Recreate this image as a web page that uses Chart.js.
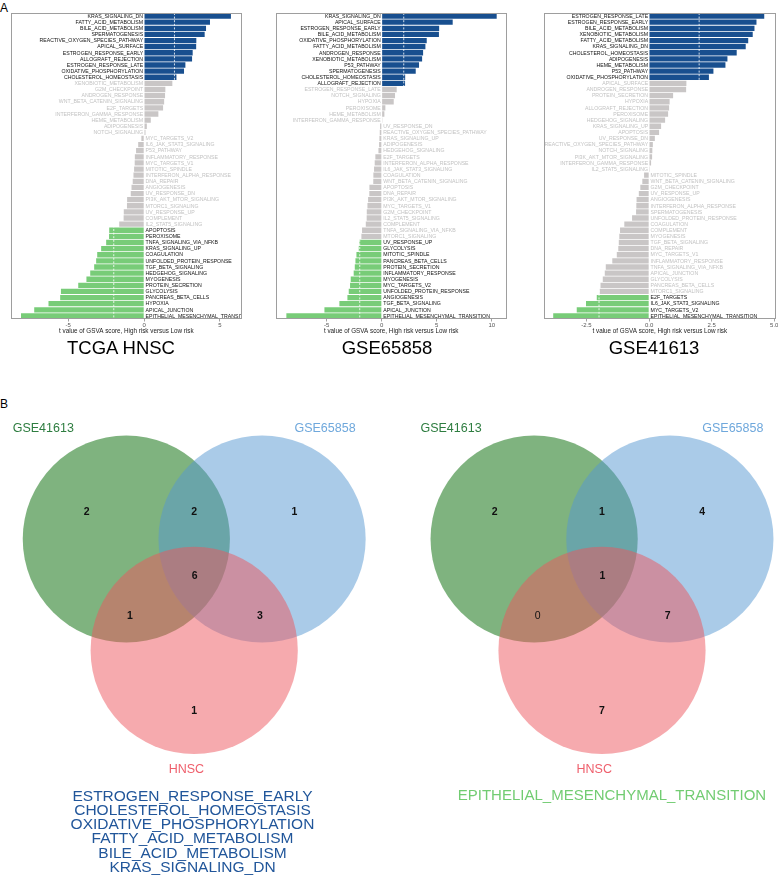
<!DOCTYPE html>
<html><head><meta charset="utf-8">
<script src="https://cdn.jsdelivr.net/npm/chart.js@4.4.1/dist/chart.umd.min.js"></script>
<style>
body{margin:0;width:778px;height:876px;position:relative;background:#fff;overflow:hidden;font-family:"Liberation Sans",Arial,sans-serif}
canvas,.t{position:absolute}
.t{white-space:nowrap;text-align:center}
</style></head><body>
<div class="t" style="left:0;top:0;font-size:12px;line-height:16px;text-align:left">A</div>
<div class="t" style="left:0;top:396px;font-size:12px;line-height:16px;text-align:left">B</div>
<canvas id="c1" width="260" height="340" style="left:0;top:0"></canvas>
<canvas id="c2" width="259" height="340" style="left:260px;top:0"></canvas>
<canvas id="c3" width="259" height="340" style="left:519px;top:0"></canvas>
<div class="t" id="t1" style="left:21px;width:200px;top:338px;font-size:18.5px;line-height:20px"></div>
<div class="t" id="t2" style="left:287px;width:200px;top:338px;font-size:18.5px;line-height:20px"></div>
<div class="t" id="t3" style="left:554px;width:200px;top:338px;font-size:18.5px;line-height:20px"></div>
<canvas id="v1" width="389" height="466" style="left:0;top:410px"></canvas>
<canvas id="v2" width="389" height="466" style="left:389px;top:410px"></canvas>
<div class="t" id="g1" style="left:0;width:385px;top:788.6px;font-size:15.5px;line-height:14.3px;color:#21569a"></div>
<div class="t" id="g2" style="left:412px;width:400px;top:788px;font-size:15px;line-height:14.3px;color:#72cc72"></div>
<script>
// ---------- DATA ----------
const panelTitles = ['TCGA HNSC', 'GSE65858', 'GSE41613'];
const xAxisTitle = 't value of GSVA score, High risk versus Low risk';
const threshold = 2;

const tcgaPathways = ['KRAS_SIGNALING_DN','FATTY_ACID_METABOLISM','BILE_ACID_METABOLISM','SPERMATOGENESIS','REACTIVE_OXYGEN_SPECIES_PATHWAY','APICAL_SURFACE','ESTROGEN_RESPONSE_EARLY','ALLOGRAFT_REJECTION','ESTROGEN_RESPONSE_LATE','OXIDATIVE_PHOSPHORYLATION','CHOLESTEROL_HOMEOSTASIS','XENOBIOTIC_METABOLISM','G2M_CHECKPOINT','ANDROGEN_RESPONSE','WNT_BETA_CATENIN_SIGNALING','E2F_TARGETS','INTERFERON_GAMMA_RESPONSE','HEME_METABOLISM','ADIPOGENESIS','NOTCH_SIGNALING','MYC_TARGETS_V2','IL6_JAK_STAT3_SIGNALING','P53_PATHWAY','INFLAMMATORY_RESPONSE','MYC_TARGETS_V1','MITOTIC_SPINDLE','INTERFERON_ALPHA_RESPONSE','DNA_REPAIR','ANGIOGENESIS','UV_RESPONSE_DN','PI3K_AKT_MTOR_SIGNALING','MTORC1_SIGNALING','UV_RESPONSE_UP','COMPLEMENT','IL2_STAT5_SIGNALING','APOPTOSIS','PEROXISOME','TNFA_SIGNALING_VIA_NFKB','KRAS_SIGNALING_UP','COAGULATION','UNFOLDED_PROTEIN_RESPONSE','TGF_BETA_SIGNALING','HEDGEHOG_SIGNALING','MYOGENESIS','PROTEIN_SECRETION','GLYCOLYSIS','PANCREAS_BETA_CELLS','HYPOXIA','APICAL_JUNCTION','EPITHELIAL_MESENCHYMAL_TRANSITION'];
const tcgaValues = [5.72,4.34,4.08,3.99,3.44,3.43,3.20,3.16,2.72,2.63,2.13,1.86,1.40,1.38,1.32,1.25,0.94,0.44,0.18,0.09,-0.18,-0.39,-0.53,-0.61,-0.62,-0.66,-0.70,-0.75,-0.83,-0.88,-1.12,-1.13,-1.34,-1.35,-1.64,-2.30,-2.31,-2.50,-2.83,-3.09,-3.16,-3.29,-3.55,-3.80,-4.34,-5.48,-5.53,-6.30,-7.24,-8.11];

const gse65858Pathways = ['KRAS_SIGNALING_DN','APICAL_SURFACE','ESTROGEN_RESPONSE_EARLY','BILE_ACID_METABOLISM','OXIDATIVE_PHOSPHORYLATION','FATTY_ACID_METABOLISM','ANDROGEN_RESPONSE','XENOBIOTIC_METABOLISM','P53_PATHWAY','SPERMATOGENESIS','CHOLESTEROL_HOMEOSTASIS','ALLOGRAFT_REJECTION','ESTROGEN_RESPONSE_LATE','NOTCH_SIGNALING','HYPOXIA','PEROXISOME','HEME_METABOLISM','INTERFERON_GAMMA_RESPONSE','UV_RESPONSE_DN','REACTIVE_OXYGEN_SPECIES_PATHWAY','KRAS_SIGNALING_UP','ADIPOGENESIS','HEDGEHOG_SIGNALING','E2F_TARGETS','INTERFERON_ALPHA_RESPONSE','IL6_JAK_STAT3_SIGNALING','COAGULATION','WNT_BETA_CATENIN_SIGNALING','APOPTOSIS','DNA_REPAIR','PI3K_AKT_MTOR_SIGNALING','MYC_TARGETS_V1','G2M_CHECKPOINT','IL2_STAT5_SIGNALING','COMPLEMENT','TNFA_SIGNALING_VIA_NFKB','MTORC1_SIGNALING','UV_RESPONSE_UP','GLYCOLYSIS','MITOTIC_SPINDLE','PANCREAS_BETA_CELLS','PROTEIN_SECRETION','INFLAMMATORY_RESPONSE','MYOGENESIS','MYC_TARGETS_V2','UNFOLDED_PROTEIN_RESPONSE','ANGIOGENESIS','TGF_BETA_SIGNALING','APICAL_JUNCTION','EPITHELIAL_MESENCHYMAL_TRANSITION'];
const gse65858Values = [10.45,6.45,5.22,5.20,4.09,3.97,3.76,3.67,3.39,3.09,2.13,2.12,1.36,1.21,1.09,0.33,0.24,0.06,-0.15,-0.18,-0.21,-0.24,-0.30,-0.58,-0.64,-0.70,-0.76,-0.77,-1.12,-1.13,-1.24,-1.30,-1.36,-1.37,-1.45,-1.79,-1.85,-2.03,-2.09,-2.30,-2.39,-2.45,-2.55,-2.82,-2.88,-3.00,-3.12,-3.85,-5.21,-8.67];

const gse41613Pathways = ['ESTROGEN_RESPONSE_LATE','ESTROGEN_RESPONSE_EARLY','BILE_ACID_METABOLISM','XENOBIOTIC_METABOLISM','FATTY_ACID_METABOLISM','KRAS_SIGNALING_DN','CHOLESTEROL_HOMEOSTASIS','ADIPOGENESIS','HEME_METABOLISM','P53_PATHWAY','OXIDATIVE_PHOSPHORYLATION','APICAL_SURFACE','ANDROGEN_RESPONSE','PROTEIN_SECRETION','HYPOXIA','ALLOGRAFT_REJECTION','PEROXISOME','HEDGEHOG_SIGNALING','KRAS_SIGNALING_UP','APOPTOSIS','UV_RESPONSE_DN','REACTIVE_OXYGEN_SPECIES_PATHWAY','NOTCH_SIGNALING','PI3K_AKT_MTOR_SIGNALING','INTERFERON_GAMMA_RESPONSE','IL2_STAT5_SIGNALING','MITOTIC_SPINDLE','WNT_BETA_CATENIN_SIGNALING','G2M_CHECKPOINT','UV_RESPONSE_UP','ANGIOGENESIS','INTERFERON_ALPHA_RESPONSE','SPERMATOGENESIS','UNFOLDED_PROTEIN_RESPONSE','COAGULATION','COMPLEMENT','MYOGENESIS','TGF_BETA_SIGNALING','DNA_REPAIR','MYC_TARGETS_V1','INFLAMMATORY_RESPONSE','TNFA_SIGNALING_VIA_NFKB','APICAL_JUNCTION','GLYCOLYSIS','PANCREAS_BETA_CELLS','MTORC1_SIGNALING','E2F_TARGETS','IL6_JAK_STAT3_SIGNALING','MYC_TARGETS_V2','EPITHELIAL_MESENCHYMAL_TRANSITION'];
const gse41613Values = [4.60,4.29,4.21,4.14,3.96,3.86,3.50,3.13,3.05,2.57,2.39,1.49,1.48,0.96,0.82,0.80,0.76,0.64,0.48,0.40,0.23,0.15,0.13,0.12,0.08,0.03,-0.20,-0.27,-0.35,-0.41,-0.50,-0.51,-0.52,-0.68,-0.99,-1.16,-1.19,-1.21,-1.23,-1.29,-1.47,-1.73,-1.77,-1.85,-1.94,-1.97,-2.09,-2.52,-2.89,-3.83];

const xTicksTcga = [-5, 0, 5];
const xTicks65858 = [-5, 0, 5, 10];
const xTicks41613 = [-2.5, 0, 2.5, 5];

const vennSetNames = ['GSE41613', 'GSE65858', 'HNSC'];
const vennRegionNames = ['GSE41613 only','GSE41613 & GSE65858','GSE65858 only','all three','GSE41613 & HNSC','GSE65858 & HNSC','HNSC only'];
const vennUpCounts = [2, 2, 1, 6, 1, 3, 1];
const vennDownCounts = [2, 1, 4, 1, 0, 7, 7];
const sharedUpPathways = ['ESTROGEN_RESPONSE_EARLY','CHOLESTEROL_HOMEOSTASIS','OXIDATIVE_PHOSPHORYLATION','FATTY_ACID_METABOLISM','BILE_ACID_METABOLISM','KRAS_SIGNALING_DN'];
const sharedDownPathways = ['EPITHELIAL_MESENCHYMAL_TRANSITION'];

// ---------- STYLE / LAYOUT ----------
const FONT = '"Liberation Sans", Arial, sans-serif';
Chart.defaults.font.family = FONT;
const BLUE = '#184f8f', GREEN = '#78cc78', GRAY = '#c9c6c6';

const barDecor = {
  id: 'barDecor',
  afterDatasetsDraw(chart) {
    const {ctx, chartArea: a, scales: {x, y}} = chart;
    const labels = chart.data.labels, vals = chart.data.datasets[0].data;
    ctx.save();
    ctx.beginPath(); ctx.rect(a.left, a.top, a.right - a.left, a.bottom - a.top); ctx.clip();
    ctx.strokeStyle = '#ffffff'; ctx.lineWidth = 0.8; ctx.setLineDash([2, 1.6]);
    [-threshold, threshold].forEach(t => {
      const px = x.getPixelForValue(t);
      ctx.beginPath(); ctx.moveTo(px, a.top); ctx.lineTo(px, a.bottom); ctx.stroke();
    });
    ctx.setLineDash([]);
    ctx.font = '5.2px ' + FONT;
    ctx.textBaseline = 'middle';
    const x0 = x.getPixelForValue(0);
    labels.forEach((lab, i) => {
      const v = vals[i], py = y.getPixelForValue(i) + 0.3;
      ctx.fillStyle = Math.abs(v) >= threshold ? '#111111' : '#c2c2c2';
      if (v >= 0) { ctx.textAlign = 'right'; ctx.fillText(lab, x0 - 1, py); }
      else { ctx.textAlign = 'left'; ctx.fillText(lab, x0 + 1.5, py); }
    });
    ctx.restore();
    ctx.save();
    ctx.strokeStyle = '#9e9e9e'; ctx.lineWidth = 1;
    ctx.strokeRect(Math.round(a.left) + 0.5, Math.round(a.top) + 0.5, Math.round(a.right - a.left) - 1, Math.round(a.bottom - a.top) - 1);
    ctx.restore();
  }
};

function barChart(id, labels, values, ticks, min, max, pl, pr, fmt) {
  const step = ticks[1] - ticks[0];
  return new Chart(document.getElementById(id), {
    type: 'bar',
    data: { labels, datasets: [{ data: values,
      backgroundColor: values.map(v => v >= threshold ? BLUE : (v <= -threshold ? GREEN : GRAY)),
      barPercentage: 1, categoryPercentage: 0.87, borderWidth: 0 }] },
    options: {
      indexAxis: 'y', responsive: false, animation: false, events: [],
      layout: { padding: { left: pl, right: pr, top: 13, bottom: 5 } },
      plugins: { legend: { display: false }, tooltip: { enabled: false } },
      scales: {
        y: { display: false, offset: true },
        x: {
          min, max,
          border: { display: false },
          grid: { drawOnChartArea: false, drawTicks: true, tickLength: 2.5, color: '#8a8a8a', lineWidth: 0.8 },
          ticks: { stepSize: step, includeBounds: false, autoSkip: false, maxRotation: 0, padding: 0,
                   font: { size: 6 }, color: '#555555', callback: v => fmt(v) },
          title: { display: true, text: xAxisTitle, font: { size: 6.3 }, color: '#222222', padding: { top: 0, bottom: 0 } },
          afterFit: s => { s.height = 16; s.paddingLeft = 0; s.paddingRight = 0; }
        }
      }
    },
    plugins: [barDecor]
  });
}

barChart('c1', tcgaPathways, tcgaValues, xTicksTcga, -8.77, 6.43, 11, 18.3, v => String(v));
barChart('c2', gse65858Pathways, gse65858Values, xTicks65858, -9.64, 11.36, 15.7, 12.3, v => String(v));
barChart('c3', gse41613Pathways, gse41613Values, xTicks41613, -4.21, 5.07, 24.7, 2, v => v.toFixed(1));
['t1','t2','t3'].forEach((id, i) => document.getElementById(id).textContent = panelTitles[i]);

// Venn layout (in circle-radius units)
const vennR = 1;
const vennCenters = [{x: -0.655, y: 0}, {x: 0.655, y: 0}, {x: 0, y: -1.076}];
const vennFill = ['rgba(0,103,0,0.5)', 'rgba(85,151,209,0.5)', 'rgba(237,85,93,0.5)'];
const vennCountPos = [[-1.037, 0.264], [0, 0.264], [0.967, 0.264], [0.005, -0.357], [-0.62, -0.74], [0.635, -0.74], [0, -1.657]];
const vennLabelPos = [[-1.457, 1.069], [1.263, 1.069], [-0.075, -2.23]];
const vennLabelColor = ['#2e7d40', '#6fa8dc', '#ef5f6c'];

const vennText = {
  id: 'vennText',
  afterDatasetsDraw(chart, args, opts) {
    const {ctx, scales: {x, y}} = chart;
    ctx.save();
    ctx.textAlign = 'center'; ctx.textBaseline = 'middle';
    opts.counts.forEach((c, i) => {
      const p = vennCountPos[i];
      ctx.font = (c === 0 ? '' : 'bold ') + '10.5px ' + FONT;
      ctx.fillStyle = '#111111';
      ctx.fillText(String(c), x.getPixelForValue(p[0]), y.getPixelForValue(p[1]));
    });
    ctx.font = '12.5px ' + FONT;
    vennSetNames.forEach((n, i) => {
      const p = vennLabelPos[i];
      ctx.fillStyle = vennLabelColor[i];
      ctx.fillText(n, x.getPixelForValue(p[0]), y.getPixelForValue(p[1]));
    });
    ctx.restore();
  }
};

function venn(id, counts, originX, originY, ppu) {
  const W = 389, H = 466;
  return new Chart(document.getElementById(id), {
    type: 'scatter',
    data: { datasets: [{ data: vennCenters, backgroundColor: vennFill, borderWidth: 0,
      pointRadius: c => c.chart.scales.x.getPixelForValue(vennR) - c.chart.scales.x.getPixelForValue(0),
      pointHoverRadius: c => c.chart.scales.x.getPixelForValue(vennR) - c.chart.scales.x.getPixelForValue(0) }] },
    options: {
      responsive: false, animation: false, events: [],
      layout: { padding: 0 },
      plugins: { legend: { display: false }, tooltip: { enabled: false }, vennText: { counts } },
      scales: {
        x: { display: false, min: -originX / ppu, max: (W - originX) / ppu },
        y: { display: false, min: -(H - originY) / ppu, max: originY / ppu }
      }
    },
    plugins: [vennText]
  });
}
venn('v1', vennUpCounts, 194.2, 129, 103.6);
venn('v2', vennDownCounts, 213, 129, 103.6);

document.getElementById('g1').innerHTML = sharedUpPathways.join('<br>');
document.getElementById('g2').innerHTML = sharedDownPathways.join('<br>');
</script>
</body></html>
